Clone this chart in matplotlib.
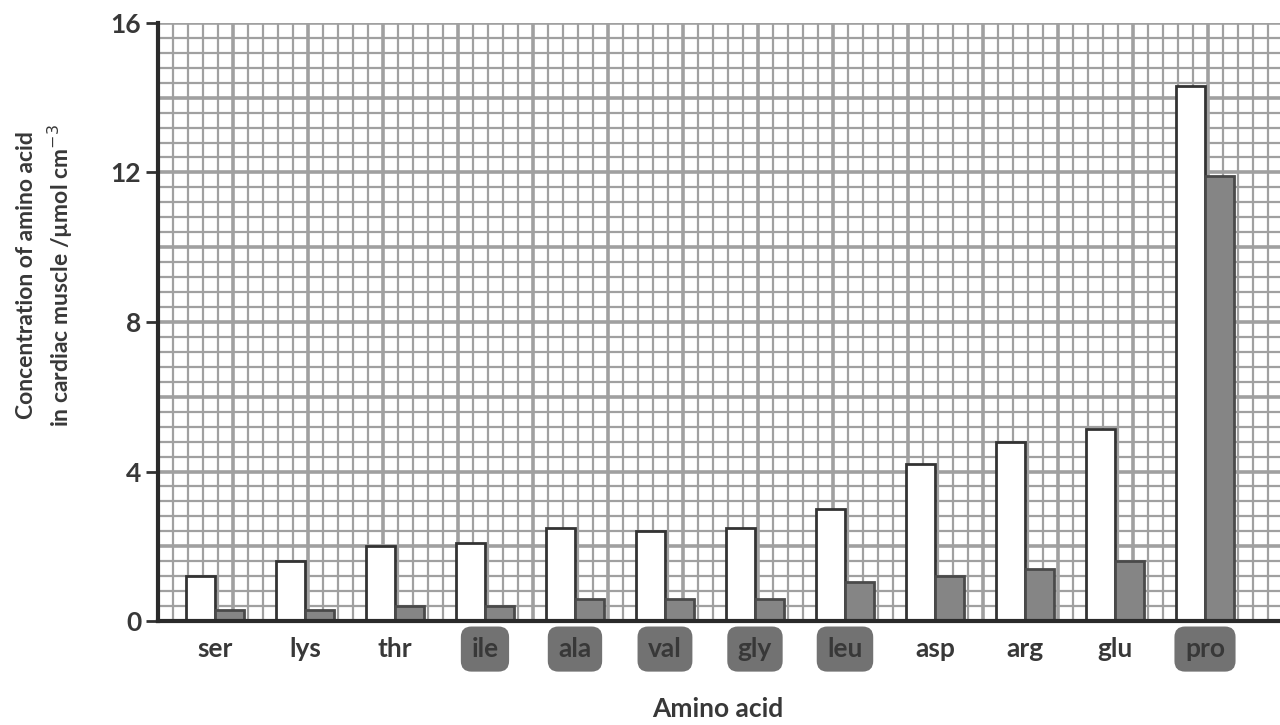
import numpy as np
import matplotlib
matplotlib.use("Agg")
import matplotlib.pyplot as plt

# données
acides = ["ser", "lys", "thr", "ile", "ala", "val", "gly", "leu", "asp", "arg", "glu", "pro"]
surligne = ["ile", "ala", "val", "gly", "leu", "pro"]
blanc = [1.2, 1.6, 2.0, 2.1, 2.5, 2.4, 2.5, 3.0, 4.2, 4.8, 5.15, 14.3]
gris = [0.3, 0.3, 0.4, 0.4, 0.6, 0.6, 0.6, 1.05, 1.2, 1.4, 1.6, 11.9]

# axe x en petits carreaux du papier millimetre
PAS = 6          # carreaux entre deux groupes
LARG = 1.95      # largeur d'une barre
X0 = 3.8         # centre du premier groupe
XMAX = 74.8

plt.rcParams['font.family'] = ['Lato', 'DejaVu Sans']
TXT = "#383838"

fig = plt.figure(figsize=(12.8, 7.25), dpi=100)
ax = fig.add_axes([0.1234, 0.1434, 0.8766, 0.825])

# papier millimetre
gcol = "#a0a0a0"
for k, yv in enumerate(np.arange(0, 16.01, 0.4)):
    lw = 2.6 if k % 5 == 0 else 1.6
    ax.axhline(yv, color=gcol, lw=lw, zorder=0)
for k, xv in enumerate(np.arange(0, XMAX, 1.0)):
    lw = 2.6 if k % 5 == 0 else 1.6
    ax.axvline(xv, color=gcol, lw=lw, zorder=0)

centres = X0 + PAS * np.arange(len(acides))
ax.bar(centres - LARG / 2, blanc, width=LARG, color="white", edgecolor="#333333",
       linewidth=2, zorder=3)
ax.bar(centres + LARG / 2, gris, width=LARG, color="#858585", edgecolor="#4a4a4a",
       linewidth=2, zorder=3)

ax.set_xlim(0, XMAX)
ax.set_ylim(0, 16)
ax.set_yticks([0, 4, 8, 12, 16])
ax.set_yticklabels(["0", "4", "8", "12", "16"], fontsize=19, color=TXT, fontweight="bold")
ax.tick_params(axis="y", length=9, width=2, color="#333333", pad=3)
ax.set_xticks([])

for s in ["top", "right"]:
    ax.spines[s].set_visible(False)
for s in ["left", "bottom"]:
    ax.spines[s].set_linewidth(3)
    ax.spines[s].set_color("#2a2a2a")
    ax.spines[s].set_zorder(5)

for c, nom in zip(centres, acides):
    bb = None
    if nom in surligne:
        bb = dict(boxstyle="round,pad=0.4", facecolor="#727272", edgecolor="none")
    ax.text(c, -0.75, nom, ha="center", va="center", fontsize=19, color=TXT,
            fontweight="bold", bbox=bb, clip_on=False)

ax.text(37.3, -2.35, "Amino acid", ha="center", va="center",
        fontsize=19, color=TXT, fontweight="bold", clip_on=False)

fig.text(0.021, 0.62, "Concentration of amino acid", rotation=90, ha="center",
         va="center", fontsize=16.5, color=TXT, fontweight="bold")
fig.text(0.047, 0.62, "in cardiac muscle /µmol cm$^{-3}$", rotation=90, ha="center",
         va="center", fontsize=16.5, color=TXT, fontweight="bold")

fig.savefig("out.png", dpi=100)
